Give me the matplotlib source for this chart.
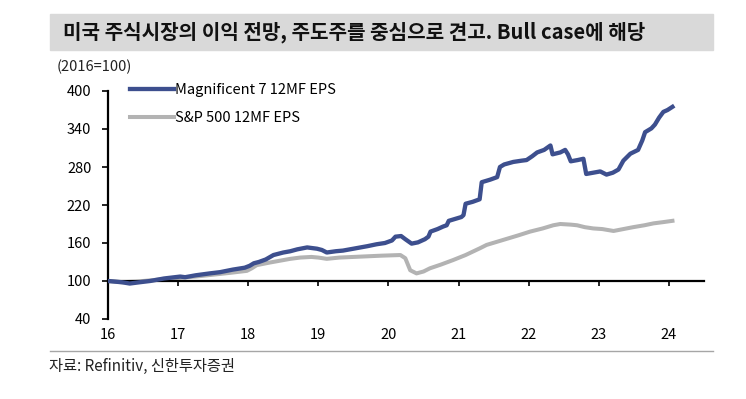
import matplotlib
matplotlib.use("Agg")
from matplotlib import pyplot as plt
from matplotlib.patches import Rectangle
from matplotlib.lines import Line2D

plt.rcParams["font.family"] = ["Noto Sans CJK KR", "DejaVu Sans"]

# Values (x = year, 16 = 2016)
mag7_t = [16.00, 16.10, 16.20, 16.31, 16.45, 16.60, 16.80, 17.03, 17.10, 17.25,
          17.45, 17.60, 17.78, 17.95, 18.02, 18.08, 18.15, 18.25, 18.36, 18.50,
          18.60, 18.70, 18.84, 18.98, 19.05, 19.12, 19.25, 19.35, 19.50, 19.60,
          19.70, 19.83, 19.95, 20.05, 20.10, 20.18, 20.24, 20.33, 20.42, 20.52,
          20.57, 20.60, 20.70, 20.78, 20.83, 20.86, 20.95, 21.04, 21.07, 21.10,
          21.20, 21.30, 21.33, 21.45, 21.55, 21.59, 21.65, 21.78, 21.90, 21.97,
          22.05, 22.12, 22.22, 22.31, 22.34, 22.45, 22.52, 22.56, 22.60, 22.70,
          22.78, 22.82, 22.92, 23.02, 23.11, 23.20, 23.28, 23.35, 23.45, 23.56,
          23.62, 23.66, 23.75, 23.80, 23.86, 23.92, 23.98, 24.05]
mag7_eps = [100, 99, 98, 96, 98, 100, 104, 107, 106, 109,
            112, 114, 118, 121, 124, 128, 130, 134, 141, 145,
            147, 150, 153, 151, 149, 145, 147, 148, 151, 153,
            155, 158, 160, 164, 170, 171, 166, 159, 161, 166,
            170, 178, 182, 186, 188, 195, 198, 201, 204, 222,
            225, 229, 256, 260, 264, 280, 284, 288, 290, 291,
            297, 303, 307, 314, 300, 303, 307, 300, 289, 291,
            293, 269, 271, 273, 268, 271, 276, 290, 301, 307,
            322, 335, 341, 347, 358, 367, 370, 375]

spx_t = [16.00, 16.20, 16.40, 16.60, 16.80, 17.03, 17.25, 17.50, 17.75, 17.98,
         18.05, 18.12, 18.30, 18.45, 18.60, 18.74, 18.90, 19.00, 19.12, 19.30,
         19.50, 19.70, 19.90, 20.17, 20.24, 20.31, 20.40, 20.50, 20.59, 20.75,
         20.92, 21.10, 21.31, 21.40, 21.55, 21.70, 21.85, 22.02, 22.20, 22.35,
         22.45, 22.60, 22.69, 22.80, 22.92, 23.05, 23.21, 23.35, 23.49, 23.65,
         23.78, 23.92, 24.05]
spx_eps = [100, 98, 99, 101, 103, 105, 107, 110, 113, 116,
           120, 125, 129, 132, 135, 137, 138, 137, 135, 137,
           138, 139, 140, 141, 136, 117, 112, 115, 120, 126,
           133, 141, 152, 157, 162, 167, 172, 178, 183, 188,
           190, 189, 188, 185, 183, 182, 179, 182, 185, 188,
           191, 193, 195]

x_ticks = [16, 17, 18, 19, 20, 21, 22, 23, 24]
y_ticks = [40, 100, 160, 220, 280, 340, 400]

title = "미국 주식시장의 이익 전망, 주도주를 중심으로 견고. Bull case에 해당"
unit_label = "(2016=100)"
source = "자료: Refinitiv, 신한투자증권"

W, H = 746, 399
fig = plt.figure(figsize=(W / 100, H / 100), dpi=100)

# title bar
fig.patches.append(Rectangle((50 / W, 1 - 50 / H), 663 / W, 36 / H,
                             transform=fig.transFigure, color="#D9D9D9", zorder=0))
fig.text(63 / W, 1 - 32 / H, title, fontsize=14.5, fontweight="bold",
         va="center", ha="left", color="#111111")
fig.text(57 / W, 1 - 67 / H, unit_label, fontsize=10.5, va="center", color="#222222")

# bottom rule and source
fig.add_artist(Line2D([50 / W, 713 / W], [1 - 351 / H, 1 - 351 / H],
                      transform=fig.transFigure, color="#A6A6A6", lw=1))
fig.text(49 / W, 1 - 366 / H, source, fontsize=11, va="center", color="#222222")

ax = fig.add_axes([108 / W, 1 - 319 / H, 596 / W, 228 / H])
ax.plot(mag7_t, mag7_eps, color="#3D4F8E", lw=3.1, label="Magnificent 7 12MF EPS",
        solid_joinstyle="round", zorder=3)
ax.plot(spx_t, spx_eps, color="#B3B3B3", lw=2.9, label="S&P 500 12MF EPS",
        solid_joinstyle="round", zorder=2)

ax.set_xlim(16, 24.5)
ax.set_ylim(40, 400)
ax.set_xticks(x_ticks)
ax.set_xticklabels([str(t) for t in x_ticks])
ax.set_yticks(y_ticks)

ax.spines["top"].set_visible(False)
ax.spines["right"].set_visible(False)
ax.spines["bottom"].set_position(("data", 100))
ax.spines["bottom"].set_linewidth(1.6)
ax.spines["left"].set_linewidth(1.6)
ax.tick_params(axis="y", direction="out", length=4, width=1.2, labelsize=10.5, pad=8)
ax.tick_params(axis="x", direction="out", length=3.5, width=1.2, labelsize=10.5, pad=30)
ax.patch.set_alpha(0)

ax.legend(loc="upper left", bbox_to_anchor=(130 / W, 1 - 83 / H),
          bbox_transform=fig.transFigure, frameon=False, fontsize=10.5,
          handlelength=3.0, handletextpad=0.1, labelspacing=0.95,
          borderpad=0, borderaxespad=0)

fig.savefig("out.png", dpi=100)
